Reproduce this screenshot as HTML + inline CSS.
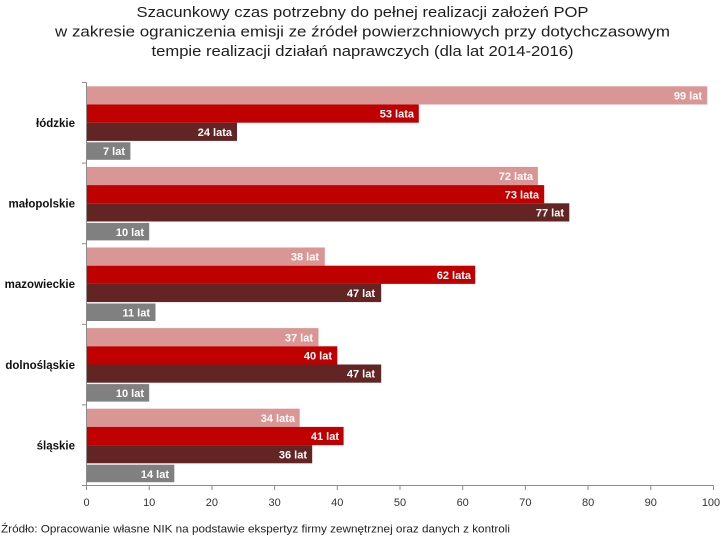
<!DOCTYPE html>
<html><head><meta charset="utf-8"><style>
html,body{margin:0;padding:0;background:#fff;}
svg{display:block;}
text{font-family:"Liberation Sans","DejaVu Sans",sans-serif;}
</style></head><body>
<svg width="725" height="540" viewBox="0 0 725 540" xmlns="http://www.w3.org/2000/svg">
<rect width="725" height="540" fill="#fff"/>
<g fill="#1e1e1e" font-size="15" text-anchor="middle">
<text x="362.5" y="17" textLength="452" lengthAdjust="spacingAndGlyphs">Szacunkowy czas potrzebny do pełnej realizacji założeń POP</text>
<text x="362.5" y="36.5" textLength="615" lengthAdjust="spacingAndGlyphs">w zakresie ograniczenia emisji ze źródeł powierzchniowych przy dotychczasowym</text>
<text x="362.5" y="56" textLength="422" lengthAdjust="spacingAndGlyphs">tempie realizacji działań naprawczych (dla lat 2014-2016)</text>
</g>

<!-- bars -->
<g>
<!-- łódzkie g=82.5 -->
<rect x="86.5" y="86.3" width="620.7" height="18.2" fill="#d99694"/>
<rect x="86.5" y="104.5" width="332.3" height="18.2" fill="#c00000"/>
<rect x="86.5" y="122.7" width="150.5" height="18.2" fill="#632523"/>
<rect x="86.5" y="142.3" width="43.9" height="17.5" fill="#808080"/>
<!-- małopolskie g=163.1 -->
<rect x="86.5" y="166.9" width="451.4" height="18.2" fill="#d99694"/>
<rect x="86.5" y="185.1" width="457.7" height="18.2" fill="#c00000"/>
<rect x="86.5" y="203.3" width="482.8" height="18.2" fill="#632523"/>
<rect x="86.5" y="222.9" width="62.7" height="17.5" fill="#808080"/>
<!-- mazowieckie g=243.7 -->
<rect x="86.5" y="247.5" width="238.3" height="18.2" fill="#d99694"/>
<rect x="86.5" y="265.7" width="388.7" height="18.2" fill="#c00000"/>
<rect x="86.5" y="283.9" width="294.7" height="18.2" fill="#632523"/>
<rect x="86.5" y="303.5" width="69.0" height="17.5" fill="#808080"/>
<!-- dolnośląskie g=324.3 -->
<rect x="86.5" y="328.1" width="232.0" height="18.2" fill="#d99694"/>
<rect x="86.5" y="346.3" width="250.8" height="18.2" fill="#c00000"/>
<rect x="86.5" y="364.5" width="294.7" height="18.2" fill="#632523"/>
<rect x="86.5" y="384.1" width="62.7" height="17.5" fill="#808080"/>
<!-- śląskie g=404.9 -->
<rect x="86.5" y="408.7" width="213.2" height="18.2" fill="#d99694"/>
<rect x="86.5" y="426.9" width="257.1" height="18.2" fill="#c00000"/>
<rect x="86.5" y="445.1" width="225.7" height="18.2" fill="#632523"/>
<rect x="86.5" y="464.7" width="87.8" height="17.5" fill="#808080"/>
</g>

<!-- data labels -->
<g fill="#fff" font-size="11" font-weight="bold" text-anchor="end">
<text x="702" y="99.5">99 lat</text>
<text x="414" y="117.7">53 lata</text>
<text x="232" y="135.9">24 lata</text>
<text x="125" y="155">7 lat</text>

<text x="533" y="180.1">72 lata</text>
<text x="539" y="198.3">73 lata</text>
<text x="564" y="216.5">77 lat</text>
<text x="144" y="236">10 lat</text>

<text x="319" y="260.7">38 lat</text>
<text x="471" y="278.9">62 lata</text>
<text x="375" y="297.1">47 lat</text>
<text x="150" y="316.6">11 lat</text>

<text x="313" y="341.3">37 lat</text>
<text x="332" y="359.5">40 lat</text>
<text x="375" y="377.7">47 lat</text>
<text x="144" y="397.2">10 lat</text>

<text x="295" y="421.9">34 lata</text>
<text x="339" y="440.1">41 lat</text>
<text x="307" y="458.3">36 lat</text>
<text x="169" y="477.8">14 lat</text>
</g>

<!-- axes -->
<g stroke="#8c8c8c" stroke-width="1" fill="none">
<line x1="86.5" y1="82.5" x2="86.5" y2="485.5"/>
<line x1="82" y1="82.5" x2="86.5" y2="82.5"/>
<line x1="82" y1="163.1" x2="86.5" y2="163.1"/>
<line x1="82" y1="243.7" x2="86.5" y2="243.7"/>
<line x1="82" y1="324.3" x2="86.5" y2="324.3"/>
<line x1="82" y1="404.9" x2="86.5" y2="404.9"/>
<line x1="82" y1="485.5" x2="713.5" y2="485.5"/>
<line x1="86.5" y1="485.5" x2="86.5" y2="490"/>
<line x1="149.2" y1="485.5" x2="149.2" y2="490"/>
<line x1="211.9" y1="485.5" x2="211.9" y2="490"/>
<line x1="274.6" y1="485.5" x2="274.6" y2="490"/>
<line x1="337.3" y1="485.5" x2="337.3" y2="490"/>
<line x1="400" y1="485.5" x2="400" y2="490"/>
<line x1="462.7" y1="485.5" x2="462.7" y2="490"/>
<line x1="525.4" y1="485.5" x2="525.4" y2="490"/>
<line x1="588.1" y1="485.5" x2="588.1" y2="490"/>
<line x1="650.8" y1="485.5" x2="650.8" y2="490"/>
<line x1="713.5" y1="485.5" x2="713.5" y2="490"/>
</g>

<g fill="#333" font-size="11" text-anchor="middle">
<text x="86.5" y="506">0</text>
<text x="149.2" y="506">10</text>
<text x="211.9" y="506">20</text>
<text x="274.6" y="506">30</text>
<text x="337.3" y="506">40</text>
<text x="400" y="506">50</text>
<text x="462.7" y="506">60</text>
<text x="525.4" y="506">70</text>
<text x="588.1" y="506">80</text>
<text x="650.8" y="506">90</text>
<text x="711" y="506">100</text>
</g>

<!-- category labels -->
<g fill="#111" font-size="11.5" font-weight="bold" text-anchor="end">
<text x="75" y="127">łódzkie</text>
<text x="75" y="207.6">małopolskie</text>
<text x="75" y="288.2">mazowieckie</text>
<text x="75" y="368.8">dolnośląskie</text>
<text x="75" y="449.4">śląskie</text>
</g>

<text x="1" y="532.5" fill="#222" font-size="11" textLength="509" lengthAdjust="spacingAndGlyphs">Źródło: Opracowanie własne NIK na podstawie ekspertyz firmy zewnętrznej oraz danych z kontroli</text>
</svg>
</body></html>
